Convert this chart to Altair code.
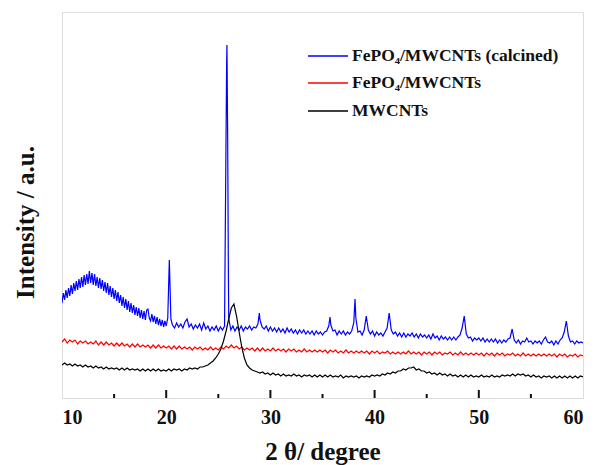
import altair as alt
import pandas as pd

# ---- data (intensity in arbitrary units) ----
# Blue: FePO4/MWCNTs (calcined)
# broad hump, sampled every 0.125 degree from 10.0
blue_hump_start, blue_hump_step = 10.0, 0.125
blue_hump_y = [95, 105, 98, 108, 100, 110, 102, 113, 104, 115, 107, 117, 108, 119, 110, 121,
               111, 123, 113, 124, 114, 127, 115, 125, 113, 124, 112, 121, 110, 120, 109, 118,
               107, 116, 105, 115, 103, 112, 101, 110, 99, 108, 97, 106, 95, 103, 92, 101,
               90, 99, 88, 97, 86, 95, 85, 93, 83, 91, 82, 90, 80, 88, 79, 87,
               78, 88, 89, 80, 77, 84, 76, 82, 74, 81, 73, 79, 72, 78, 71, 77]
# peak near 20.3
blue_p1_x = [20.0, 20.15, 20.3, 20.45]
blue_p1_y = [72, 80, 138, 79]
# baseline sampled every 0.2 degree from 20.6 to 60.0
blue_base_start, blue_base_step = 20.6, 0.2
blue_base_y = [73, 70,
               75, 71, 74, 70, 76,   # 21
               79, 71, 74, 69, 73,   # 22
               70, 74, 68, 75, 69,   # 23
               72, 67, 71, 68, 72,   # 24
               67, 71, 68, 72, 335,  # 25
               80, 68, 72, 67, 71,   # 26
               68, 72, 67, 71, 69,   # 27
               72, 68, 71, 70, 74,   # 28
               78, 71, 69, 72, 67,   # 29
               71, 67, 70, 66, 70,   # 30
               66, 69, 65, 70, 66,   # 31
               69, 65, 68, 64, 68,   # 32
               65, 68, 64, 67, 64,   # 33
               67, 63, 67, 64, 66,   # 34
               63, 66, 67, 72, 73,   # 35
               67, 68, 63, 67, 64,   # 36
               67, 63, 66, 64, 67,   # 37
               75, 80, 66, 67, 63,   # 38
               68, 82, 68, 64, 67,   # 39
               62, 66, 63, 65, 62,   # 40
               66, 70, 85, 68, 64,   # 41
               66, 62, 65, 61, 65,   # 42
               61, 64, 62, 65, 61,   # 43
               64, 60, 64, 61, 63,   # 44
               60, 63, 59, 64, 60,   # 45
               62, 58, 62, 59, 61,   # 46
               58, 61, 58, 61, 58,   # 47
               61, 63, 70, 82, 64,   # 48
               60, 61, 57, 60, 58,   # 49
               60, 57, 60, 56, 59,   # 50
               56, 59, 56, 59, 55,   # 51
               58, 55, 58, 56, 59,   # 52
               60, 69, 58, 55, 58,   # 53
               54, 57, 56, 60, 56,   # 54
               57, 54, 57, 55, 57,   # 55
               54, 58, 61, 56, 55,   # 56
               57, 53, 57, 54, 58,   # 57
               60, 66, 77, 62, 56,   # 58
               57, 54, 57, 55, 56,   # 59
               55]
# extra points on the sharp peaks
blue_peak_x = [25.68, 25.83, 25.9, 25.96, 28.94, 35.72, 38.12]
blue_peak_y = [180, 353, 260, 140, 85, 81, 99]

# Red: FePO4/MWCNTs, sampled every 0.25 degree from 10
red_start, red_step = 10.0, 0.25
red_y = [56, 59, 55, 58, 56, 58, 54, 57, 55, 57, 54, 56, 54, 57, 53, 56, 53, 56, 53, 55,
         52, 55, 52, 55, 52, 54, 51, 54, 51, 54, 51, 53, 51, 53, 50, 53, 50, 53, 50, 52,
         50, 52, 49, 52, 49, 52, 49, 51, 49, 51, 48, 51, 49, 51, 48, 50, 48, 51, 48, 50,
         48, 51, 49, 52, 50, 53, 50, 52, 49, 51, 48, 50, 48, 50, 47, 50, 47, 50, 47, 49,
         47, 50, 47, 49, 47, 49, 46, 49, 47, 49, 46, 48, 46, 49, 46, 48, 46, 48, 46, 48,
         46, 48, 45, 48, 46, 48, 45, 47, 45, 48, 45, 47, 45, 47, 45, 47, 45, 47, 44, 47,
         45, 47, 44, 46, 45, 47, 44, 46, 44, 46, 44, 46, 44, 47, 44, 46, 44, 46, 43, 46,
         44, 46, 43, 46, 44, 46, 43, 45, 44, 46, 43, 45, 43, 46, 43, 45, 43, 45, 43, 45,
         43, 45, 42, 45, 43, 45, 42, 45, 43, 45, 42, 44, 43, 45, 42, 44, 42, 45, 42, 44,
         42, 44, 42, 44, 42, 44, 42, 44, 42, 44, 41, 44, 42, 44, 41, 43, 42, 44, 41, 43,
         42]

# Black: MWCNTs, sampled every 0.25 degree from 10
black_start, black_step = 10.0, 0.25
black_y = [33, 35, 33, 34, 32, 34, 32, 33, 31, 33, 31, 32, 30, 32, 30, 31, 29, 31, 29, 30,
           29, 30, 28, 30, 28, 30, 28, 29, 28, 29, 27, 29, 27, 29, 27, 29, 27, 29, 27, 28,
           27, 29, 27, 29, 28, 29, 27, 29, 28, 30, 29, 30, 29, 31, 31, 32, 33, 35, 37, 40,
           44, 49, 57, 67, 79, 90, 94, 82, 66, 51, 40, 33, 30, 28, 27, 26, 25, 26, 24, 25,
           23, 25, 23, 24, 22, 24, 22, 23, 22, 24, 22, 23, 21, 23, 22, 23, 21, 23, 21, 23,
           21, 23, 21, 23, 21, 22, 21, 23, 20, 22, 21, 22, 21, 22, 20, 22, 21, 22, 21, 23,
           22, 23, 22, 24, 23, 25, 24, 26, 25, 27, 27, 29, 28, 30, 30, 31, 28, 29, 27, 27,
           25, 26, 24, 25, 23, 25, 23, 24, 22, 24, 22, 23, 21, 23, 21, 23, 21, 23, 21, 22,
           21, 23, 21, 22, 21, 23, 21, 22, 21, 23, 22, 23, 22, 24, 22, 24, 23, 24, 22, 23,
           21, 23, 21, 22, 20, 22, 21, 22, 20, 22, 20, 22, 20, 22, 20, 22, 20, 22, 20, 22,
           21]

legend_labels = ["FePO\u2084/MWCNTs (calcined)", "FePO\u2084/MWCNTs", "MWCNTs"]
legend_colors = ["#0000ff", "#ff0000", "#000000"]

major_ticks = [20, 30, 40, 50]
minor_ticks = [15, 25, 35, 45, 55]
x_tick_labels = [10, 20, 30, 40, 50, 60]

FONT = "Liberation Serif"
W, H = 521, 386


def grid(start, step, n):
    return [round(start + step * i, 3) for i in range(n)]


blue_df = pd.DataFrame({
    "x": grid(blue_hump_start, blue_hump_step, len(blue_hump_y)) + blue_p1_x
         + grid(blue_base_start, blue_base_step, len(blue_base_y)) + blue_peak_x,
    "y": blue_hump_y + blue_p1_y + blue_base_y + blue_peak_y,
}).sort_values("x")
red_df = pd.DataFrame({"x": grid(red_start, red_step, len(red_y)), "y": red_y})
black_df = pd.DataFrame({"x": grid(black_start, black_step, len(black_y)), "y": black_y})

xscale = alt.Scale(domain=[10, 60], nice=False, zero=False)
yscale = alt.Scale(domain=[0, 386], nice=False, zero=False)

xenc = alt.X("x:Q", sort=None, scale=xscale, axis=alt.Axis(
    values=x_tick_labels, title="2 \u03b8/ degree", grid=False, ticks=False, tickSize=0,
    domain=False, labelFont=FONT, labelFontSize=20, labelFontWeight="bold", labelColor="#111",
    labelPadding=9, titleFont=FONT, titleFontSize=25, titleFontWeight="bold", titleColor="#111",
    titlePadding=12))
yenc = alt.Y("y:Q", scale=yscale, axis=alt.Axis(
    title="Intensity / a.u.", labels=False, ticks=False, tickSize=0, grid=False, domain=False,
    titleFont=FONT, titleFontSize=25, titleFontWeight="bold", titleColor="#111",
    titleX=-37, titleY=210, titleAngle=270, titleBaseline="middle", titleAlign="center"))


def line(df, color):
    return alt.Chart(df).mark_line(color=color, strokeWidth=1.2, clip=True).encode(
        x=xenc, y=yenc, order="x:Q")


blue = line(blue_df, legend_colors[0])
red = line(red_df, legend_colors[1])
black = line(black_df, legend_colors[2])

major = alt.Chart(pd.DataFrame({"x": major_ticks})).mark_rule(color="#111", strokeWidth=2).encode(
    x=alt.X("x:Q", scale=xscale), y=alt.value(H), y2=alt.value(H - 8))
minor = alt.Chart(pd.DataFrame({"x": minor_ticks})).mark_rule(color="#111", strokeWidth=2).encode(
    x=alt.X("x:Q", scale=xscale), y=alt.value(H), y2=alt.value(H - 4))

leg_rows_y = [44, 71, 99]
leg_layers = []
for lab, col, ry in zip(legend_labels, legend_colors, leg_rows_y):
    d = pd.DataFrame({"label": [lab]})
    leg_layers.append(alt.Chart(d).mark_rule(color=col, strokeWidth=1.5).encode(
        x=alt.value(246), x2=alt.value(286), y=alt.value(ry)))
    leg_layers.append(alt.Chart(d).mark_text(
        font=FONT, fontSize=17.5, fontWeight="bold", color="#111", align="left", baseline="middle").encode(
        x=alt.value(290), y=alt.value(ry), text="label:N"))

chart = alt.layer(blue, red, black, major, minor, *leg_layers).properties(
    width=W, height=H,
    autosize=alt.AutoSizeParams(type="none"),
    padding={"left": 54, "top": 4, "right": 5, "bottom": 70},
).configure_view(stroke="#111", strokeWidth=2).configure(background="white")

chart.save("out.html", embed_options={"renderer": "svg", "actions": False})
